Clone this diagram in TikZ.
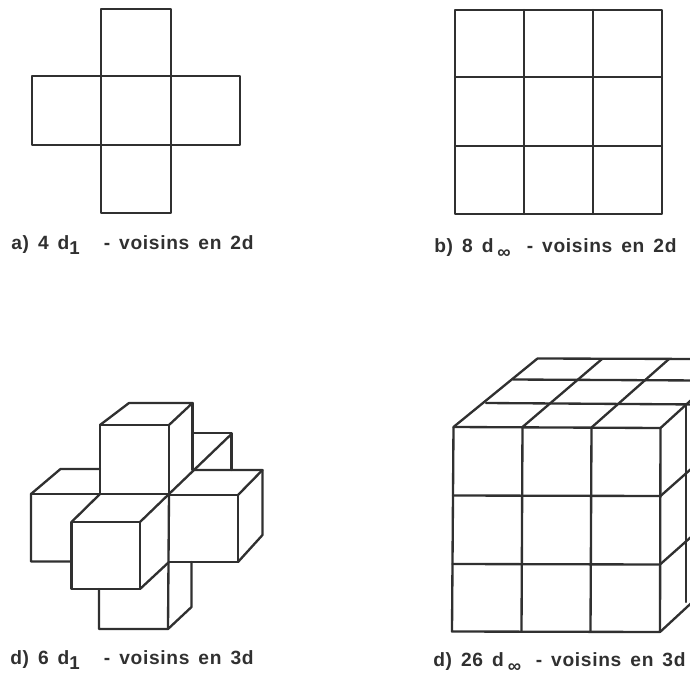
\documentclass[tikz,border=0pt]{standalone}
\usepackage{fontspec}
\setmainfont{Liberation Sans}[LetterSpace=3.5,WordSpace=1.5]
\definecolor{ink}{HTML}{303030}
\newcommand{\subtxt}[2]{\raisebox{#1}{\fontsize{14}{16}\selectfont #2}}
\tikzset{
  edge/.style={draw=ink,line width=1.75pt,line cap=round,line join=round},
  lab/.style={anchor=base west,inner sep=0pt,text=ink,font=\fontsize{14.4}{17}\selectfont\bfseries}
}
\begin{document}
\begin{tikzpicture}[x=0.75pt,y=-0.75pt]
\useasboundingbox (0,0) rectangle (690,675);
% a) cross
\draw[edge] (101,9) rectangle (171,213);
\draw[edge] (32,76) rectangle (240,145);
% b) grid
\draw[edge] (455,10) rectangle (662,214);
\draw[edge] (524,10) -- (524,214) (593,10) -- (593,214);
\draw[edge] (455,77) -- (662,77) (455,146) -- (662,146);
% c) 3d cross
\draw[edge] (100,494) -- (100,425) -- (169,425) -- (169,494);
\draw[edge] (100,425) -- (129,403) -- (192.5,403) -- (169,425);
\draw[edge] (192.5,403) -- (192.5,470);
\draw[edge] (192.5,433) -- (231.5,433) -- (231.5,470);
\draw[edge] (169,494) -- (231.5,434);
\draw[edge] (193,470) -- (262.5,470) -- (262.5,535) -- (238,562);
\draw[edge] (169,495) -- (238,495) -- (238,562) -- (169,562);
\draw[edge] (238,495) -- (262.5,470);
\draw[edge] (100,469) -- (60.5,469) -- (31,494) -- (31,561.5) -- (71.5,561.5);
\draw[edge] (31,494) -- (169,494);
\draw[edge] (71.5,522) rectangle (140,589);
\draw[edge] (71.5,522) -- (100,494) (140,522) -- (169,494) (140,589) -- (169,562);
\draw[edge] (169,494) -- (168,629);
\draw[edge] (99,589) -- (99,629) -- (168,629) -- (191.5,607) -- (191.5,562);
% d) 3d grid
\begin{scope}
\clip (0,0) rectangle (690,675);
\draw[edge] (453.5,427) -- (660.5,428) -- (660,632) -- (452,631.5) -- cycle;
\draw[edge] (522.5,427) -- (521.5,631.5) (591.5,427.5) -- (590.5,631.5);
\draw[edge] (453,495.5) -- (660.5,496) (452.5,564) -- (660,564.5);
\draw[edge] (453.5,427) -- (537.5,358.5) -- (700,359);
\draw[edge] (522.5,427) -- (602,359) (591.5,427.5) -- (669,359) (660.5,428) -- (700,392);
\draw[edge] (513,379.5) -- (700,380.5) (486,403) -- (700,404.5);
\draw[edge] (660.5,496) -- (700,461) (660,564.5) -- (700,529) (660,632) -- (700,595);
\draw[edge] (686,404) -- (686,602);
\end{scope}
% labels
\node[lab] (la) at (11,249) {a) 4 d\subtxt{-4pt}{1}\hspace{18pt}- voisins en 2d};
\node[lab] (lb) at (434,252) {b) 8 d\hspace{3pt}\subtxt{-5pt}{∞}\hspace{12pt}- voisins en 2d};
\node[lab] (lc) at (10,664) {d) 6 d\subtxt{-4pt}{1}\hspace{18pt}- voisins en 3d};
\node[lab] (ld) at (433,666) {d) 26 d\hspace{3pt}\subtxt{-5pt}{∞}\hspace{11pt}- voisins en 3d};
\end{tikzpicture}
\end{document}
